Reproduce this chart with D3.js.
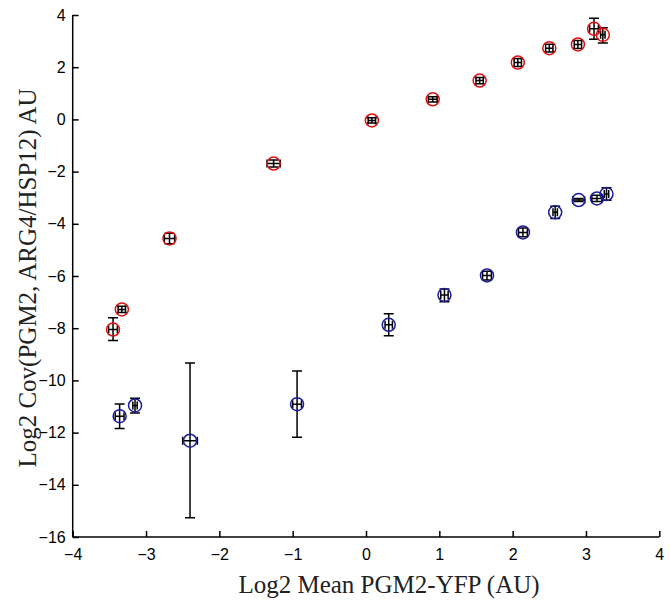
<!DOCTYPE html>
<html><head><meta charset="utf-8">
<script src="https://cdn.jsdelivr.net/npm/d3@7"></script>
<style>body{margin:0;background:#fff}svg{display:block}</style>
</head><body>
<svg id="c" width="670" height="607"></svg>
<script>
const xTicks = [-4,-3,-2,-1,0,1,2,3,4];
const yTicks = [-16,-14,-12,-10,-8,-6,-4,-2,0,2,4];

// ARG4 (red) series
const redX    = [-3.45,-3.33,-2.68,-1.26,0.08,0.91,1.55,2.07,2.50,2.89,3.11,3.23];
const redY    = [-8.05,-7.28,-4.56,-1.69,-0.04,0.77,1.49,2.18,2.73,2.87,3.47,3.24];
const redYLo  = [-8.47,-7.40,-4.76,-1.82,-0.14,0.67,1.37,2.03,2.58,2.72,3.07,2.93];
const redYHi  = [-7.60,-7.16,-4.36,-1.56,0.06,0.87,1.61,2.33,2.88,3.02,3.88,3.51];
const redXErr = [0.06,0.05,0.07,0.09,0.05,0.06,0.05,0.05,0.05,0.05,0.06,0.03];

// HSP12 (blue) series
const blueX    = [-3.36,-3.15,-2.40,-0.94,0.31,1.07,1.65,2.14,2.58,2.90,3.15,3.28];
const blueY    = [-11.37,-10.96,-12.31,-10.91,-7.87,-6.73,-5.98,-4.33,-3.56,-3.09,-3.03,-2.86];
const blueYLo  = [-11.84,-11.25,-15.26,-12.18,-8.29,-6.99,-6.15,-4.50,-3.80,-3.15,-3.15,-3.10];
const blueYHi  = [-10.90,-10.68,-9.33,-9.64,-7.45,-6.50,-5.82,-4.16,-3.33,-3.03,-2.91,-2.62];
const blueXErr = [0.06,0.03,0.10,0.06,0.05,0.05,0.06,0.06,0.03,0.08,0.07,0.03];

const svg = d3.select("#c");
const m = {l:72.7, r:659.3, t:15, b:537};
const x = d3.scaleLinear().domain([-4,4]).range([m.l,m.r]);
const y = d3.scaleLinear().domain([-16,4]).range([m.b,m.t]);

const xa = svg.append("g").attr("transform",`translate(0,${m.b})`)
  .call(d3.axisBottom(x).tickValues(xTicks).tickSizeInner(-6).tickSizeOuter(0).tickPadding(12).tickFormat(d3.format("d")));
const ya = svg.append("g").attr("transform",`translate(${m.l},0)`)
  .call(d3.axisLeft(y).tickValues(yTicks).tickSizeInner(-6).tickSizeOuter(0).tickPadding(7).tickFormat(d3.format("d")));
[xa,ya].forEach(a=>{
  a.select(".domain").attr("stroke","#000").attr("stroke-width",1.5);
  a.selectAll(".tick line").attr("stroke","#000").attr("stroke-width",1.5);
  a.selectAll(".tick text").attr("font-family","'Liberation Sans', Arial, sans-serif").attr("font-size",16).attr("fill","#000");
});
ya.select(".domain").attr("d",`M0,${m.t}V${m.b}`);
xa.select(".domain").attr("d",`M${m.l},0H${m.r}`);

function series(X,Y,YLo,YHi,XErr,color){
  const g = svg.append("g");
  const d = X.map((v,i)=>({x:v,y:Y[i],lo:YLo[i],hi:YHi[i],xe:XErr[i]}));
  const capW = 5, capH = 4;
  const eb = g.selectAll("g.e").data(d).join("g").attr("stroke","#000").attr("stroke-width",1.5).attr("fill","none");
  eb.append("path").attr("d",p=>{
    const cx=x(p.x), y1=y(p.lo), y2=y(p.hi);
    return `M${cx},${y1}V${y2}M${cx-capW},${y1}H${cx+capW}M${cx-capW},${y2}H${cx+capW}`;
  });
  eb.append("path").attr("d",p=>{
    const cy=y(p.y), x1=x(p.x-p.xe), x2=x(p.x+p.xe);
    return `M${x1},${cy}H${x2}M${x1},${cy-capH}V${cy+capH}M${x2},${cy-capH}V${cy+capH}`;
  });
  g.selectAll("circle").data(d).join("circle")
    .attr("cx",p=>x(p.x)).attr("cy",p=>y(p.y)).attr("r",6.5)
    .attr("fill","none").attr("stroke",color).attr("stroke-width",1.5);
}
series(redX,redY,redYLo,redYHi,redXErr,"#e01010");
series(blueX,blueY,blueYLo,blueYHi,blueXErr,"#1c1c9c");

svg.append("text").attr("x",389).attr("y",593).attr("text-anchor","middle")
  .attr("font-family","'Liberation Serif', 'Times New Roman', serif").attr("font-size",25).attr("fill","#222")
  .text("Log2 Mean PGM2-YFP (AU)");
svg.append("text").attr("transform",`translate(36,278) rotate(-90)`).attr("text-anchor","middle")
  .attr("font-family","'Liberation Serif', 'Times New Roman', serif").attr("font-size",25).attr("fill","#222")
  .text("Log2 Cov(PGM2, ARG4/HSP12) AU");
</script>
</body></html>
